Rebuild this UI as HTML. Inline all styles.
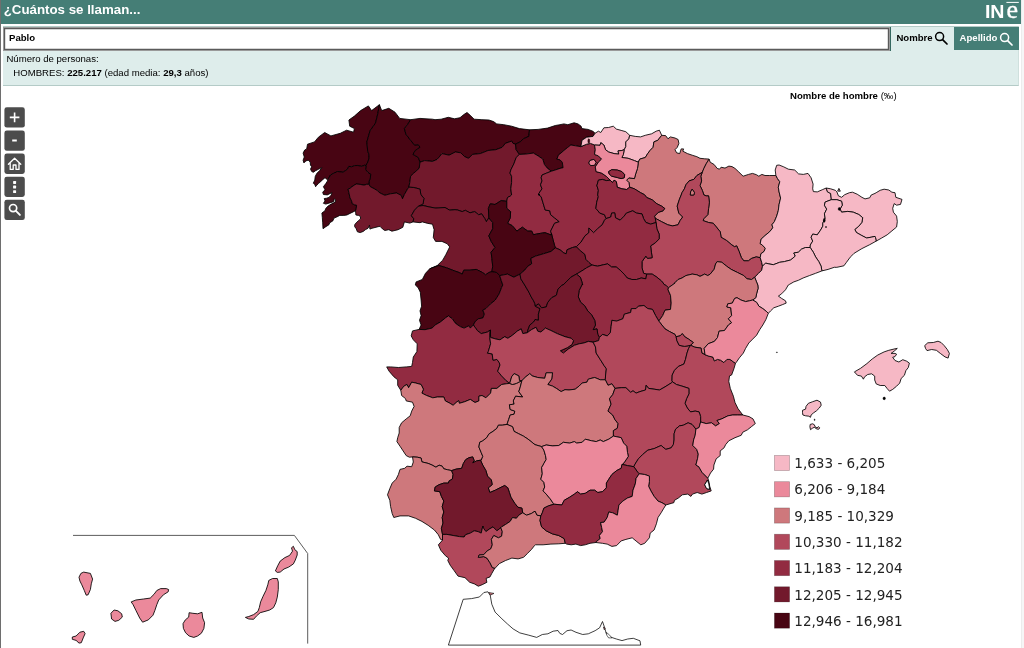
<!DOCTYPE html>
<html lang="es">
<head>
<meta charset="utf-8">
<title>¿Cuántos se llaman...</title>
<style>
*{box-sizing:border-box}
html,body{margin:0;padding:0;background:#fff;}
body{width:1024px;height:648px;overflow:hidden;position:relative;font-family:"Liberation Sans",Arial,Helvetica,sans-serif;color:#000;}
#lb{position:absolute;left:0;top:0;width:1px;height:648px;background:#6e6e6e;}
#rb{position:absolute;left:1021px;top:0;width:3px;height:648px;background:#f6f6f6;border-left:1px solid #ececec;}
#hdr{position:absolute;left:1px;top:0;width:1020px;height:24px;background:#457e76;}
#hdr h1{position:absolute;left:2.7px;top:1.3px;margin:0;font-size:13.3px;line-height:18px;font-weight:bold;color:#fff;white-space:nowrap;}
#logo{position:absolute;left:983px;top:0px;width:38px;height:22px;}
#panel{position:absolute;left:3px;top:26px;width:1016px;height:60px;background:#deedeb;border:1px solid #b4cbc7;border-left:0;border-right-color:#cfe0dd;}
#inp{position:absolute;left:0px;top:0px;width:887px;height:24.3px;background:#fff;border:1px solid #9a9a9a;box-shadow:inset 0 0 0 1.2px #5a5a5a;font-weight:bold;font-size:9.6px;line-height:18px;padding:1px 0 0 5px;}
#b1{position:absolute;left:887px;top:0px;width:64px;height:24px;border-left:1px solid #356860;font-weight:bold;font-size:9.6px;line-height:22px;padding-left:5.4px;}
#b2{position:absolute;left:951.2px;top:0px;width:65px;height:23.2px;background:#457e76;color:#fff;font-weight:bold;font-size:9.6px;line-height:22px;padding-left:5.4px;}
.mg{position:absolute;top:4px;width:14px;height:14px;}
#t1{position:absolute;left:3.4px;top:25.2px;font-size:9.6px;line-height:13px;white-space:nowrap;}
#t2{position:absolute;left:10.3px;top:39.2px;font-size:9.6px;line-height:13px;white-space:nowrap;}
#ttl{position:absolute;left:790px;top:88.5px;font-size:9.6px;line-height:13px;font-weight:bold;white-space:nowrap;}
#ttl span{font-weight:normal}
#map{position:absolute;left:0;top:0;width:1024px;height:648px;}
#leg{position:absolute;left:0;top:0;font-family:"DejaVu Sans",Verdana,sans-serif;font-size:13.55px;color:#222;}
#leg div{position:absolute;left:794.3px;height:16px;line-height:16px;white-space:nowrap;}
</style>
</head>
<body>

<svg id="map" width="1024" height="648" viewBox="0 0 1024 648">
<g stroke="#000" stroke-width="0.85" stroke-linejoin="round">
<path fill="#480513" d="M304.7,150.0 303.1,153.1 304.3,157.0 303.1,160.2 303.9,162.9 305.9,160.9 308.2,160.2 310.2,162.1 310.5,165.2 311.7,166.8 310.5,169.1 311.7,171.5 313.3,172.3 315.6,170.7 318.8,169.1 321.9,167.6 319.9,170.3 316.8,173.4 315.2,176.6 314.8,180.1 313.3,183.2 314.8,184.4 315.6,186.7 316.8,185.2 318.4,183.6 321.1,181.2 322.7,179.7 325.0,177.7 327.3,179.7 328.5,178.5 330.5,175.0 333.6,173.4 337.5,171.5 340.6,171.9 343.0,172.3 345.3,170.7 347.3,169.5 348.8,166.4 351.6,166.8 354.7,165.6 357.8,165.5 361.7,166.4 364.8,165.2 366.0,165.5 368.0,161.7 369.1,157.8 368.8,153.9 367.7,151.2 366.9,141.9 370.0,130.9 375.5,123.1 377.8,113.8 379.4,104.7 371.6,110.6 368.4,105.9 360.6,110.6 354.4,116.1 348.9,120.0 349.7,126.2 354.4,128.6 353.6,132.2 346.6,130.2 340.3,133.3 330.9,135.9 324.7,132.5 318.4,137.2 314.5,141.9 307.5,144.2 306.7,148.9Z"/>
<path fill="#480513" d="M410.6,119.7 399.7,118.4 395.0,112.2 388.8,108.3 381.7,110.6 379.4,104.7 377.8,113.8 375.5,123.1 370.0,130.9 366.9,141.9 367.7,151.2 368.8,153.9 369.1,157.8 368.0,161.7 366.0,165.5 365.6,169.5 368.0,172.7 370.7,174.2 370.3,178.1 369.1,181.2 368.8,184.2 370.3,186.7 374.2,188.7 377.3,190.6 380.0,193.0 384.8,195.3 390.3,193.8 396.6,193.0 401.2,195.3 402.5,198.8 404.4,194.5 407.5,189.1 408.8,187.2 409.8,182.5 410.6,176.2 413.8,173.1 419.2,168.4 420.0,162.2 418.4,157.5 413.0,154.4 415.3,150.5 420.0,147.3 418.4,144.7 414.5,145.0 410.6,140.3 405.9,134.1 404.4,128.6 407.5,124.7Z"/>
<path fill="#480513" d="M435.0,119.7 432.5,119.2 420.0,118.4 410.6,119.7 407.5,124.7 404.4,128.6 405.9,134.1 410.6,140.3 414.5,145.0 418.4,144.7 420.0,147.3 415.3,150.5 413.0,154.4 418.4,157.5 420.0,162.2 424.7,160.6 432.5,161.4 437.2,159.4 442.0,153.6 449.1,155.2 455.3,152.0 460.8,152.8 464.7,156.7 468.6,158.3 472.5,154.4 480.3,153.6 488.1,150.5 495.9,149.7 502.2,147.3 505.3,143.4 511.6,141.1 513.1,143.4 515.5,144.2 520.2,141.9 523.3,138.8 528.8,136.4 529.5,129.8 519.4,128.6 511.6,126.2 503.8,124.7 496.7,123.9 493.6,121.6 488.9,120.0 481.9,119.7 474.1,119.2 470.2,115.3 467.0,112.5 463.9,114.5 460.0,117.7 454.5,118.8 448.3,117.3 441.2,119.2Z"/>
<path fill="#480513" d="M366.0,165.5 364.8,165.2 361.7,166.4 357.8,165.5 354.7,165.6 351.6,166.8 348.8,166.4 347.3,169.5 345.3,170.7 343.0,172.3 340.6,171.9 337.5,171.5 333.6,173.4 330.5,175.0 328.5,178.5 327.3,181.2 325.8,183.6 323.4,186.7 325.0,189.8 322.7,192.2 323.4,194.5 327.3,194.9 332.0,192.6 331.2,195.1 328.9,197.4 326.6,198.2 324.2,198.6 325.0,200.9 323.4,203.3 325.8,204.1 329.7,202.9 333.6,201.7 334.4,198.6 335.5,199.8 335.2,202.1 331.2,204.1 328.1,206.0 325.8,208.4 325.0,210.7 321.9,213.0 322.3,217.3 322.7,222.8 323.0,228.7 325.8,226.7 328.9,224.8 329.7,222.8 332.8,220.9 334.0,218.1 336.7,217.0 339.8,215.4 343.8,215.4 346.9,215.0 350.0,213.4 353.1,211.9 355.5,210.7 356.2,208.8 356.6,205.2 354.7,204.8 352.3,203.7 351.6,200.9 350.0,197.8 349.2,193.9 348.8,192.2 348.0,189.1 350.0,188.3 353.1,185.9 356.2,184.0 360.2,184.4 364.1,185.2 366.4,184.4 368.8,184.2 369.1,181.2 370.3,178.1 370.7,174.2 368.0,172.7 365.6,169.5Z"/>
<path fill="#72192c" d="M437.2,159.4 432.5,161.4 424.7,160.6 420.0,162.2 419.2,168.4 413.8,173.1 410.6,176.2 409.8,182.5 408.8,187.2 413.8,187.5 420.0,189.1 420.8,194.5 423.9,198.4 423.1,203.9 418.4,206.2 423.1,205.5 429.4,207.0 435.6,208.1 445.0,207.5 449.7,210.2 455.0,209.7 457.5,210.0 462.2,211.6 465.3,210.3 470.0,212.8 474.7,211.6 478.6,214.7 481.7,213.9 484.8,218.6 486.4,221.7 488.8,217.8 488.4,208.4 490.3,203.8 495.0,204.5 501.2,200.6 506.7,201.4 507.5,197.5 510.6,195.9 511.6,195.0 510.8,188.8 511.6,182.5 511.6,176.2 510.0,173.1 510.8,170.0 513.9,163.8 516.2,157.5 519.4,154.4 516.2,149.7 515.5,144.2 513.1,143.4 511.6,141.1 505.3,143.4 502.2,147.3 495.9,149.7 488.1,150.5 480.3,153.6 472.5,154.4 468.6,158.3 464.7,156.7 460.8,152.8 455.3,152.0 449.1,155.2 442.0,153.6Z"/>
<path fill="#72192c" d="M355.9,215.0 358.6,215.4 360.5,216.6 360.5,218.9 358.2,220.9 356.2,222.8 354.7,224.8 354.7,226.7 356.2,228.7 357.4,231.8 360.2,232.6 363.3,231.4 365.2,229.8 368.0,228.3 369.5,225.2 369.9,229.1 371.9,228.3 375.0,227.5 378.1,226.7 380.0,226.3 380.0,226.3 382.5,228.9 384.8,230.5 388.8,229.7 391.9,231.2 398.1,229.7 402.8,227.3 404.4,221.9 409.8,223.1 413.0,221.9 413.8,218.8 411.4,215.6 414.5,210.2 418.4,206.2 423.1,203.9 423.9,198.4 420.8,194.5 420.0,189.1 413.8,187.5 408.8,187.2 407.5,189.1 404.4,194.5 402.5,198.8 401.2,195.3 396.6,193.0 390.3,193.8 384.8,195.3 380.0,193.0 377.3,190.6 374.2,188.7 370.3,186.7 368.8,184.2 366.4,184.4 364.1,185.2 360.2,184.4 356.2,184.0 353.1,185.9 350.0,188.3 348.0,189.1 348.8,192.2 349.2,193.9 350.0,197.8 351.6,200.9 352.3,203.7 354.7,204.8 356.6,205.2 356.2,208.8 355.5,210.7Z"/>
<path fill="#72192c" d="M413.0,221.9 420.0,222.7 422.3,221.9 427.8,223.4 432.5,224.2 434.1,229.7 433.3,237.5 435.6,241.4 441.9,241.4 447.3,243.8 449.7,246.9 445.8,254.7 442.7,260.2 437.2,265.6 429.7,268.8 438.8,265.5 446.6,267.8 454.4,270.9 459.1,272.5 462.2,274.1 463.8,270.2 470.0,270.2 476.2,269.4 482.5,272.5 485.6,274.8 488.8,272.5 491.9,271.7 492.7,266.2 491.9,258.4 491.1,252.2 495.0,247.5 491.1,241.2 488.8,235.8 492.7,228.8 492.7,222.5 488.8,217.8 486.4,221.7 484.8,218.6 481.7,213.9 478.6,214.7 474.7,211.6 470.0,212.8 465.3,210.3 462.2,211.6 457.5,210.0 455.0,209.7 449.7,210.2 445.0,207.5 435.6,208.1 429.4,207.0 423.1,205.5 418.4,206.2 414.5,210.2 411.4,215.6 413.8,218.8Z"/>
<path fill="#480513" d="M592.8,131.2 588.1,129.4 581.9,128.6 581.1,126.2 578.0,123.9 574.1,122.8 567.8,124.7 563.9,123.9 560.0,124.7 555.3,125.5 547.5,128.1 538.1,129.4 529.5,129.8 528.8,136.4 523.3,138.8 520.2,141.9 515.5,144.2 516.2,149.7 519.4,154.4 525.6,154.1 533.4,153.1 538.1,155.9 542.8,159.1 544.4,164.5 547.5,168.4 551.4,171.2 555.3,170.0 560.0,168.4 563.1,167.7 562.3,162.2 560.0,159.8 556.9,159.1 558.4,155.2 563.1,151.2 567.8,147.3 570.9,145.0 575.6,145.8 580.3,146.6 580.9,146.6 582.0,140.3 586.7,137.2 593.0,136.4 595.0,133.3 593.0,131.2Z"/>
<path fill="#922b41" d="M519.4,154.4 516.2,157.5 513.9,163.8 510.8,170.0 510.0,173.1 511.6,176.2 511.6,182.5 510.8,188.8 511.6,195.0 510.6,195.9 507.5,197.5 506.7,201.4 506.7,208.4 510.6,211.6 510.3,217.8 507.5,223.3 512.2,225.6 516.9,231.1 522.3,227.2 527.8,231.1 531.7,231.1 533.3,234.7 540.3,233.4 545.0,232.7 551.2,235.0 551.4,233.4 550.6,231.1 552.2,228.0 554.5,223.3 559.2,221.7 554.5,217.8 550.6,214.7 549.8,210.8 545.2,210.0 542.8,202.2 541.2,196.7 538.1,194.4 539.7,195.0 538.9,193.4 542.0,188.8 540.5,184.8 542.0,180.9 541.2,177.8 542.0,175.0 546.7,173.1 551.4,171.2 547.5,168.4 544.4,164.5 542.8,159.1 538.1,155.9 533.4,153.1 525.6,154.1Z"/>
<path fill="#922b41" d="M580.9,146.6 580.3,146.6 575.6,145.8 570.9,145.0 567.8,147.3 563.1,151.2 558.4,155.2 556.9,159.1 560.0,159.8 562.3,162.2 563.1,167.7 560.0,168.4 555.3,170.0 551.4,171.2 546.7,173.1 542.0,175.0 541.2,177.8 542.0,180.9 540.5,184.8 542.0,188.8 538.9,193.4 539.7,195.0 538.1,194.4 541.2,196.7 542.8,202.2 545.2,210.0 549.8,210.8 550.6,214.7 554.5,217.8 559.2,221.7 554.5,223.3 552.2,228.0 550.6,231.1 551.4,233.4 553.0,239.7 554.5,245.2 555.3,247.8 560.0,249.8 563.9,253.0 566.2,253.8 567.0,249.8 572.5,247.5 576.4,246.7 581.1,242.0 585.0,235.8 588.9,232.7 588.9,228.0 593.6,232.7 597.5,228.8 602.2,224.8 604.5,220.2 606.1,218.6 604.5,214.7 599.8,213.1 595.9,208.4 596.7,202.2 598.3,196.7 597.7,195.0 598.4,190.3 596.9,185.6 598.4,180.2 602.3,179.4 606.2,180.6 610.2,180.2 606.2,176.2 601.6,173.1 596.1,171.6 595.3,166.9 598.4,162.2 601.6,159.1 598.4,155.9 594.5,154.4 595.3,149.7 594.5,145.0 590.6,143.4 586.7,144.2ZM589.8,160.6 593.8,159.4 596.1,162.2 594.5,165.3 590.6,165.6 588.8,163.0Z"/>
<path fill="#f6b8c5" d="M629.7,135.3 625.8,131.7 621.9,130.6 616.4,129.1 613.3,126.2 608.6,127.5 603.9,127.8 600.8,132.5 598.4,131.2 595.0,133.3 593.0,136.4 586.7,137.2 582.0,140.3 580.9,146.6 586.7,144.2 590.6,143.4 594.5,145.0 600.0,145.3 600.8,142.7 603.9,145.0 605.5,149.7 608.6,152.0 614.1,153.6 618.8,154.1 618.0,150.9 621.9,150.5 624.2,149.7 625.8,146.6 625.8,141.9 628.9,138.8Z"/>
<path fill="#f6b8c5" d="M661.7,135.3 659.4,130.2 656.2,131.2 651.6,133.8 645.3,135.3 640.6,136.9 635.2,136.4 629.7,135.3 628.9,138.8 625.8,141.9 625.8,146.6 624.2,149.7 623.4,154.4 621.9,157.5 628.1,158.3 634.4,160.6 638.3,162.2 639.8,159.1 645.3,157.5 647.7,153.6 650.0,150.5 653.1,147.3 653.9,141.9 657.8,140.3Z"/>
<path fill="#ce787c" d="M709.1,159.1 704.7,158.8 700.0,158.3 696.9,156.7 692.2,155.2 687.5,153.6 682.8,151.2 683.6,148.9 681.2,148.9 679.7,153.6 676.6,152.8 675.0,149.7 677.3,147.3 678.9,143.4 678.1,139.5 675.0,138.0 670.3,136.9 668.0,138.8 665.6,135.6 661.7,135.3 657.8,140.3 653.9,141.9 653.1,147.3 650.0,150.5 647.7,153.6 645.3,157.5 639.8,159.1 638.3,162.2 637.5,168.4 635.9,173.1 634.4,178.6 628.9,177.8 626.6,180.2 628.9,182.5 629.7,187.2 634.4,188.8 640.6,192.7 644.5,194.7 646.7,197.5 652.2,199.8 656.9,203.8 661.6,206.1 664.7,208.4 663.1,210.8 658.4,212.3 654.5,216.2 655.3,218.3 661.6,221.7 667.8,224.8 672.5,225.9 678.0,224.8 680.3,220.2 682.7,217.0 678.8,213.1 677.2,206.1 679.5,199.1 681.2,195.0 682.0,192.7 684.4,188.8 685.9,184.8 689.1,180.9 693.8,179.4 696.9,175.5 702.3,172.3 703.9,168.4 706.2,163.8Z"/>
<path fill="#ce787c" d="M735.0,168.4 732.0,166.6 728.9,166.1 725.0,168.1 721.1,167.2 719.5,169.2 717.2,168.4 714.1,164.5 710.2,162.2 709.1,159.1 706.2,163.8 703.9,168.4 702.3,172.3 700.8,176.2 701.6,180.9 700.0,185.6 702.3,190.3 703.9,195.0 706.2,195.9 708.6,195.9 709.4,202.2 708.6,208.4 707.8,214.7 703.9,218.6 703.1,220.6 708.6,222.5 713.3,223.3 717.2,228.0 720.3,231.9 721.1,237.3 726.6,240.5 731.2,244.4 734.4,246.7 736.7,245.9 739.1,251.4 741.4,257.7 743.8,260.8 748.4,260.8 751.6,258.4 756.2,256.9 760.2,257.7 760.9,253.8 764.1,251.4 765.3,248.3 762.5,245.2 760.2,243.6 761.1,239.2 765.0,235.6 769.7,231.7 772.8,227.8 772.0,224.7 774.4,221.6 776.7,216.1 778.3,210.6 779.1,204.4 780.6,198.1 779.1,191.9 778.3,187.2 779.8,181.7 777.5,178.6 775.9,175.5 769.7,175.5 765.0,175.5 761.9,174.4 758.8,176.2 756.4,174.7 752.5,173.4 748.6,174.4 743.1,176.2 738.4,171.6Z"/>
<path fill="#eb899b" d="M624.2,149.7 621.9,150.5 618.0,150.9 618.8,154.1 614.1,153.6 608.6,152.0 605.5,149.7 603.9,145.0 600.8,142.7 600.0,145.3 594.5,145.0 595.3,149.7 594.5,154.4 598.4,155.9 601.6,159.1 598.4,162.2 595.3,166.9 596.1,171.6 601.6,173.1 606.2,176.2 610.2,180.2 612.5,182.5 614.1,180.2 616.4,181.7 617.2,187.2 621.9,188.8 626.6,189.5 629.7,187.2 628.9,182.5 626.6,180.2 628.9,177.8 634.4,178.6 635.9,173.1 637.5,168.4 638.3,162.2 634.4,160.6 628.1,158.3 621.9,157.5 623.4,154.4ZM608.6,171.6 611.7,169.7 617.2,170.0 621.9,171.6 624.7,174.7 624.2,177.8 621.1,178.6 617.2,177.5 611.7,176.2 609.1,173.9Z"/>
<path fill="#eb899b" d="M589.8,160.6 588.8,163.0 590.6,165.6 594.5,165.3 596.1,162.2 593.8,159.4Z"/>
<path fill="#922b41" d="M608.6,171.6 609.1,173.9 611.7,176.2 617.2,177.5 621.1,178.6 624.2,177.8 624.7,174.7 621.9,171.6 617.2,170.0 611.7,169.7Z"/>
<path fill="#922b41" d="M629.7,187.2 626.6,189.5 621.9,188.8 617.2,187.2 616.4,181.7 614.1,180.2 612.5,182.5 610.2,180.2 606.2,180.6 602.3,179.4 598.4,180.2 596.9,185.6 598.4,190.3 597.7,195.0 598.3,196.7 596.7,202.2 595.9,208.4 599.8,213.1 604.5,214.7 606.1,218.6 610.8,217.0 611.6,213.1 614.7,212.8 615.5,217.8 620.2,220.2 624.1,216.2 626.4,213.1 632.7,210.8 636.6,213.1 642.0,213.9 643.6,218.6 645.9,222.5 650.6,224.1 656.1,222.5 655.3,218.3 654.5,216.2 658.4,212.3 663.1,210.8 664.7,208.4 661.6,206.1 656.9,203.8 652.2,199.8 646.7,197.5 644.5,194.7 640.6,192.7 634.4,188.8Z"/>
<path fill="#b1485b" d="M702.3,172.3 696.9,175.5 693.8,179.4 689.1,180.9 685.9,184.8 684.4,188.8 682.0,192.7 681.2,195.0 679.5,199.1 677.2,206.1 678.8,213.1 682.7,217.0 680.3,220.2 678.0,224.8 672.5,225.9 667.8,224.8 661.6,221.7 655.3,218.3 656.1,222.5 656.9,228.8 659.2,234.2 659.2,238.9 655.3,242.8 650.6,245.9 651.4,252.2 652.2,257.7 647.5,258.4 645.9,256.1 642.0,261.6 642.0,267.8 643.6,273.3 646.7,274.1 652.2,274.1 656.9,277.2 661.6,281.1 664.7,285.0 665.8,285.2 668.4,287.8 675.0,283.1 675.0,282.7 678.1,279.5 682.0,278.0 685.9,275.6 692.2,274.1 696.9,274.8 700.0,276.4 704.7,274.1 707.8,275.6 710.2,274.1 714.1,269.4 715.6,263.9 717.2,261.6 721.9,262.3 726.6,266.2 731.2,269.4 737.5,272.5 743.8,275.6 746.9,278.8 751.6,279.5 754.7,277.2 758.6,273.3 761.7,270.2 762.5,266.2 761.7,262.3 760.2,257.7 756.2,256.9 751.6,258.4 748.4,260.8 743.8,260.8 741.4,257.7 739.1,251.4 736.7,245.9 734.4,246.7 731.2,244.4 726.6,240.5 721.1,237.3 720.3,231.9 717.2,228.0 713.3,223.3 708.6,222.5 703.1,220.6 703.9,218.6 707.8,214.7 708.6,208.4 709.4,202.2 708.6,195.9 706.2,195.9 703.9,195.0 702.3,190.3 700.0,185.6 701.6,180.9 700.8,176.2ZM692.2,189.1 694.5,192.7 693.8,195.0 690.3,195.0 690.6,191.9Z"/>
<path fill="#ce787c" d="M692.2,189.1 690.6,191.9 690.3,195.0 693.8,195.0 694.5,192.7Z"/>
<path fill="#f6b8c5" d="M826.2,188.0 822.8,189.5 817.3,191.9 813.4,191.6 812.7,188.8 813.1,184.1 811.1,177.8 808.0,173.4 803.3,174.4 798.6,173.9 794.7,170.0 788.4,169.2 783.8,166.9 779.1,165.0 776.7,165.3 775.2,170.0 775.9,175.5 777.5,178.6 779.8,181.7 778.3,187.2 779.1,191.9 780.6,198.1 779.1,204.4 778.3,210.6 776.7,216.1 774.4,221.6 772.0,224.7 772.8,227.8 769.7,231.7 765.0,235.6 761.1,239.2 760.2,243.6 762.5,245.2 765.3,248.3 764.1,251.4 760.9,253.8 760.2,257.7 761.7,262.3 762.5,266.2 765.6,263.1 768.8,263.9 773.4,264.7 779.7,262.3 784.4,261.6 790.6,260.0 795.3,256.1 793.8,253.0 798.4,252.2 801.6,249.1 805.5,247.5 810.2,247.5 810.3,245.0 812.7,241.1 811.1,237.2 812.7,234.1 817.3,234.8 820.5,230.2 822.8,226.2 822.8,223.1 825.2,218.4 824.4,213.8 826.7,209.1 824.4,205.2 825.2,202.0 831.4,199.7 830.6,193.4 827.5,191.9Z"/>
<path fill="#f6b8c5" d="M875.0,193.4 871.2,195.0 869.7,197.8 865.0,198.9 861.9,197.3 857.2,194.2 852.5,192.2 849.4,192.7 844.7,194.7 841.6,197.3 838.4,195.8 836.9,191.9 835.3,190.3 830.6,188.8 826.2,188.0 827.5,191.9 830.6,193.4 831.4,199.7 836.9,199.7 841.6,201.2 842.3,205.2 840.0,209.1 841.6,212.2 847.8,211.4 853.3,212.2 858.8,214.5 862.7,217.7 861.9,222.3 858.8,226.2 854.8,229.4 856.4,232.5 861.9,235.6 866.6,238.0 871.2,237.2 875.0,236.4 875.5,237.5 876.2,241.1 881.7,238.0 887.2,234.8 891.9,230.9 896.6,227.0 897.3,221.6 896.6,216.1 893.4,212.2 892.7,208.3 894.2,203.6 896.6,205.2 900.5,204.4 902.0,199.4 895.8,197.3 895.0,192.7 891.9,192.2 888.8,190.0 884.1,189.2 880.2,190.3 876.2,192.7Z"/>
<path fill="#f6b8c5" d="M825.2,202.0 824.4,205.2 826.7,209.1 824.4,213.8 825.2,218.4 822.8,223.1 822.8,226.2 820.5,230.2 817.3,234.8 812.7,234.1 811.1,237.2 812.7,241.1 810.3,245.0 810.2,247.5 813.3,252.2 815.6,256.9 818.8,261.6 821.1,266.2 821.9,270.9 828.1,269.4 834.9,267.1 835.0,267.3 836.9,267.3 843.9,265.8 846.2,262.7 850.2,257.2 854.1,253.3 861.9,248.6 869.7,244.7 876.2,241.1 875.5,237.5 875.0,236.4 871.2,237.2 866.6,238.0 861.9,235.6 856.4,232.5 854.8,229.4 858.8,226.2 861.9,222.3 862.7,217.7 858.8,214.5 853.3,212.2 847.8,211.4 841.6,212.2 840.0,209.1 842.3,205.2 841.6,201.2 836.9,199.7 831.4,199.7Z"/>
<path fill="#f6b8c5" d="M837.7,191.1 840.3,191.2 838.9,188.4Z"/>
<path fill="#480513" d="M506.7,201.4 501.2,200.6 495.0,204.5 490.3,203.8 488.4,208.4 488.8,217.8 492.7,222.5 492.7,228.8 488.8,235.8 491.1,241.2 495.0,247.5 491.1,252.2 491.9,258.4 492.7,266.2 491.9,271.7 496.6,272.5 499.7,275.6 507.5,274.1 513.8,277.2 520.0,274.1 524.7,270.2 527.8,266.2 531.7,263.9 530.9,258.4 535.6,256.1 543.4,253.8 551.2,251.4 555.3,247.8 554.5,245.2 553.0,239.7 551.4,233.4 551.2,235.0 545.0,232.7 540.3,233.4 533.3,234.7 531.7,231.1 527.8,231.1 522.3,227.2 516.9,231.1 512.2,225.6 507.5,223.3 510.3,217.8 510.6,211.6 506.7,208.4Z"/>
<path fill="#480513" d="M429.7,268.8 425.5,273.3 422.3,279.5 416.1,281.9 415.3,285.0 418.0,287.5 420.3,292.2 421.1,300.0 421.6,306.2 420.0,310.9 421.1,315.6 419.5,320.3 421.1,325.0 419.1,329.4 425.0,329.7 432.0,328.1 435.2,325.0 440.6,321.9 445.3,318.0 448.4,315.9 452.3,318.8 455.5,323.4 460.2,326.6 464.1,328.1 468.8,325.8 470.3,328.1 473.4,325.0 475.0,321.9 478.1,318.8 482.8,318.0 484.4,314.1 482.8,310.2 485.9,308.6 490.6,303.9 495.3,300.0 499.2,293.8 501.6,287.5 502.8,285.0 501.2,280.3 499.7,275.6 496.6,272.5 491.9,271.7 488.8,272.5 485.6,274.8 482.5,272.5 476.2,269.4 470.0,270.2 463.8,270.2 462.2,274.1 459.1,272.5 454.4,270.9 446.6,267.8 438.8,265.5Z"/>
<path fill="#72192c" d="M520.0,274.1 513.8,277.2 507.5,274.1 499.7,275.6 501.2,280.3 502.8,285.0 501.6,287.5 499.2,293.8 495.3,300.0 490.6,303.9 485.9,308.6 482.8,310.2 484.4,314.1 482.8,318.0 478.1,318.8 475.0,321.9 473.4,325.0 477.3,330.5 481.2,333.6 487.5,332.0 490.3,330.0 490.6,337.5 496.1,339.1 500.0,339.8 504.7,336.7 507.8,338.3 512.5,335.2 517.2,331.2 521.2,328.9 522.8,333.6 527.2,332.8 528.3,328.9 529.8,325.0 533.8,321.9 535.0,319.5 538.4,320.3 538.4,314.1 540.0,308.6 535.3,306.2 535.0,303.9 533.6,300.8 531.2,296.9 528.9,292.2 524.7,285.0 520.8,278.8Z"/>
<path fill="#72192c" d="M551.2,251.4 543.4,253.8 535.6,256.1 530.9,258.4 531.7,263.9 527.8,266.2 524.7,270.2 520.0,274.1 520.8,278.8 524.7,285.0 528.9,292.2 531.2,296.9 533.6,300.8 535.0,303.9 535.3,306.2 538.4,303.9 541.6,307.8 546.2,307.0 547.8,302.3 551.7,297.7 556.4,295.3 558.0,289.1 561.9,285.2 563.1,285.0 566.2,281.9 570.9,277.2 576.4,274.1 581.9,270.9 586.6,267.8 592.0,265.0 588.9,262.3 585.8,259.2 585.0,254.5 580.3,250.6 576.4,246.7 572.5,247.5 567.0,249.8 566.2,253.8 563.9,253.0 560.0,249.8 555.3,247.8Z"/>
<path fill="#922b41" d="M606.1,218.6 604.5,220.2 602.2,224.8 597.5,228.8 593.6,232.7 588.9,228.0 588.9,232.7 585.0,235.8 581.1,242.0 576.4,246.7 580.3,250.6 585.0,254.5 585.8,259.2 588.9,262.3 592.0,265.0 597.5,266.2 603.8,264.7 607.7,263.9 611.6,267.0 616.2,267.0 620.2,270.2 624.1,274.1 627.2,278.0 631.9,279.5 636.6,279.5 641.2,278.0 645.9,278.8 646.7,274.1 643.6,273.3 642.0,267.8 642.0,261.6 645.9,256.1 647.5,258.4 652.2,257.7 651.4,252.2 650.6,245.9 655.3,242.8 659.2,238.9 659.2,234.2 656.9,228.8 656.1,222.5 650.6,224.1 645.9,222.5 643.6,218.6 642.0,213.9 636.6,213.1 632.7,210.8 626.4,213.1 624.1,216.2 620.2,220.2 615.5,217.8 614.7,212.8 611.6,213.1 610.8,217.0Z"/>
<path fill="#922b41" d="M646.7,274.1 645.9,278.8 641.2,278.0 636.6,279.5 631.9,279.5 627.2,278.0 624.1,274.1 620.2,270.2 616.2,267.0 611.6,267.0 607.7,263.9 603.8,264.7 597.5,266.2 592.0,265.0 586.6,267.8 581.9,270.9 576.4,274.1 580.3,277.2 581.9,281.9 582.7,285.0 582.2,284.4 579.1,290.6 578.3,296.9 580.6,302.3 584.5,305.5 587.7,310.9 591.6,314.8 594.7,320.3 595.5,325.0 593.1,329.7 597.0,328.9 597.8,334.4 599.4,337.5 602.5,334.4 607.2,335.9 610.3,332.8 611.1,326.6 611.9,320.3 616.6,321.1 622.8,318.8 624.4,314.1 630.6,312.5 631.4,308.6 636.1,308.6 638.4,306.2 643.9,305.5 647.8,308.6 652.5,309.4 655.6,315.6 658.8,321.1 662.7,315.6 665.0,310.2 670.5,309.4 671.2,303.1 670.5,295.3 668.1,289.8 668.4,287.8 665.8,285.2 664.7,285.0 661.6,281.1 656.9,277.2 652.2,274.1Z"/>
<path fill="#72192c" d="M576.4,274.1 570.9,277.2 566.2,281.9 563.1,285.0 561.9,285.2 558.0,289.1 556.4,295.3 551.7,297.7 547.8,302.3 546.2,307.0 541.6,307.8 538.4,303.9 535.3,306.2 540.0,308.6 538.4,314.1 538.4,320.3 535.0,319.5 533.8,321.9 529.8,325.0 528.3,328.9 527.2,332.8 531.4,329.7 536.1,327.3 537.7,331.2 540.8,332.0 545.5,328.1 550.9,330.5 557.2,333.6 565.0,336.7 571.2,338.3 573.6,340.6 572.0,344.5 567.3,347.7 560.3,350.8 563.4,353.1 568.1,349.2 574.4,345.3 579.1,343.8 583.8,343.0 588.4,341.4 593.1,342.2 598.6,340.6 599.4,337.5 597.8,334.4 597.0,328.9 593.1,329.7 595.5,325.0 594.7,320.3 591.6,314.8 587.7,310.9 584.5,305.5 580.6,302.3 578.3,296.9 579.1,290.6 582.2,284.4 582.7,285.0 581.9,281.9 580.3,277.2Z"/>
<path fill="#f6b8c5" d="M762.5,266.2 761.7,270.2 758.6,273.3 754.7,277.2 756.2,281.1 757.8,285.0 758.1,288.3 756.6,293.8 755.8,297.7 752.7,300.0 756.6,302.3 758.9,306.2 762.8,308.6 766.7,311.7 768.3,313.3 770.6,310.9 773.8,307.8 778.4,306.2 782.3,304.7 786.2,303.1 785.5,300.8 781.6,298.4 778.4,296.1 781.6,293.8 785.5,289.8 788.3,285.0 789.8,284.2 793.8,281.9 798.4,280.3 803.1,278.0 809.4,275.6 815.6,273.3 821.9,270.9 821.1,266.2 818.8,261.6 815.6,256.9 813.3,252.2 810.2,247.5 805.5,247.5 801.6,249.1 798.4,252.2 793.8,253.0 795.3,256.1 790.6,260.0 784.4,261.6 779.7,262.3 773.4,264.7 768.8,263.9 765.6,263.1Z"/>
<path fill="#ce787c" d="M754.7,277.2 751.6,279.5 746.9,278.8 743.8,275.6 737.5,272.5 731.2,269.4 726.6,266.2 721.9,262.3 717.2,261.6 715.6,263.9 714.1,269.4 710.2,274.1 707.8,275.6 704.7,274.1 700.0,276.4 696.9,274.8 692.2,274.1 685.9,275.6 682.0,278.0 678.1,279.5 675.0,282.7 675.0,283.1 668.4,287.8 668.1,289.8 670.5,295.3 671.2,303.1 670.5,309.4 665.0,310.2 662.7,315.6 658.8,321.1 661.9,325.0 665.0,328.9 669.7,331.6 675.0,334.4 676.1,336.7 680.0,335.9 682.3,333.6 684.7,336.7 688.6,339.1 693.3,342.5 690.6,345.3 694.8,347.2 701.1,348.1 701.9,353.1 705.0,354.7 704.2,348.4 708.1,343.8 714.4,341.4 717.5,337.5 719.1,331.2 724.5,330.5 728.4,325.0 731.6,322.7 728.4,318.8 731.6,315.6 730.8,307.8 726.9,307.0 727.7,303.9 732.3,303.1 734.7,298.4 737.0,297.7 740.9,300.0 745.6,301.6 749.5,300.8 752.7,300.0 755.8,297.7 756.6,293.8 758.1,288.3 757.8,285.0 756.2,281.1Z"/>
<path fill="#922b41" d="M419.1,329.4 412.5,330.9 411.2,335.9 413.3,339.8 417.2,343.8 416.9,351.6 413.3,357.0 412.5,362.5 411.7,366.4 406.2,366.9 398.4,367.5 390.6,366.9 386.7,366.9 389.1,371.2 393.8,376.7 397.7,379.8 397.7,385.3 400.8,390.3 403.9,386.1 407.0,384.5 408.6,387.7 411.7,382.2 415.6,383.0 421.1,384.5 423.4,389.2 421.9,393.1 426.6,395.5 432.8,397.8 437.5,397.0 443.8,397.0 445.3,400.9 450.0,403.3 453.1,405.3 456.2,402.5 458.6,400.6 459.4,403.3 464.8,401.7 470.3,399.4 475.0,402.5 478.9,400.9 478.9,396.2 482.0,395.5 485.9,397.8 490.6,393.1 491.4,388.4 496.9,388.4 501.6,384.5 506.2,383.8 509.7,383.4 506.2,380.6 501.6,375.9 497.7,371.2 500.0,365.0 499.2,362.5 496.9,359.4 493.0,360.2 492.2,353.9 487.5,353.1 488.3,351.6 490.6,343.8 489.8,337.5 490.3,330.0 487.5,332.0 481.2,333.6 477.3,330.5 473.4,325.0 470.3,328.1 468.8,325.8 464.1,328.1 460.2,326.6 455.5,323.4 452.3,318.8 448.4,315.9 445.3,318.0 440.6,321.9 435.2,325.0 432.0,328.1 425.0,329.7Z"/>
<path fill="#b1485b" d="M527.2,332.8 522.8,333.6 521.2,328.9 517.2,331.2 512.5,335.2 507.8,338.3 504.7,336.7 500.0,339.8 496.1,339.1 490.6,337.5 490.3,330.0 489.8,337.5 490.6,343.8 488.3,351.6 487.5,353.1 492.2,353.9 493.0,360.2 496.9,359.4 499.2,362.5 500.0,365.0 497.7,371.2 501.6,375.9 506.2,380.6 509.7,383.4 511.7,376.7 514.1,373.6 518.8,375.9 519.5,380.6 521.9,380.6 525.9,376.7 529.8,373.6 532.2,375.9 537.7,377.5 544.7,378.3 546.2,372.8 552.5,372.8 551.7,379.1 547.8,384.5 552.5,386.1 556.4,388.4 561.1,391.6 565.0,389.7 568.9,390.0 575.2,389.2 579.1,386.1 582.2,383.0 586.9,382.2 588.4,379.1 594.7,377.5 600.2,379.8 605.3,379.8 605.6,375.0 606.4,368.8 604.1,365.6 600.2,359.4 596.2,353.1 595.5,346.9 593.1,342.2 588.4,341.4 583.8,343.0 579.1,343.8 574.4,345.3 568.1,349.2 563.4,353.1 560.3,350.8 567.3,347.7 572.0,344.5 573.6,340.6 571.2,338.3 565.0,336.7 557.2,333.6 550.9,330.5 545.5,328.1 540.8,332.0 537.7,331.2 536.1,327.3 531.4,329.7Z"/>
<path fill="#b1485b" d="M599.4,337.5 598.6,340.6 593.1,342.2 595.5,346.9 596.2,353.1 600.2,359.4 604.1,365.6 606.4,368.8 605.6,375.0 605.3,379.8 608.0,385.3 611.9,383.8 615.0,388.4 621.2,387.7 625.9,387.7 630.6,392.3 633.0,390.8 636.1,393.1 640.0,391.6 645.5,390.0 646.2,385.3 648.6,388.4 654.1,389.2 659.5,390.0 665.0,386.9 671.2,383.0 672.5,381.9 672.0,380.6 672.2,375.0 674.5,370.3 678.4,366.4 683.9,364.1 685.5,359.4 687.0,353.1 688.6,348.4 690.6,345.3 684.7,346.4 679.2,345.3 676.9,340.6 676.1,336.7 675.0,334.4 669.7,331.6 665.0,328.9 661.9,325.0 658.8,321.1 655.6,315.6 652.5,309.4 647.8,308.6 643.9,305.5 638.4,306.2 636.1,308.6 631.4,308.6 630.6,312.5 624.4,314.1 622.8,318.8 616.6,321.1 611.9,320.3 611.1,326.6 610.3,332.8 607.2,335.9 602.5,334.4Z"/>
<path fill="#b1485b" d="M690.6,345.3 693.3,342.5 688.6,339.1 684.7,336.7 682.3,333.6 680.0,335.9 676.1,336.7 676.9,340.6 679.2,345.3 684.7,346.4Z"/>
<path fill="#b1485b" d="M705.0,354.7 701.9,353.1 701.1,348.1 694.8,347.2 690.6,345.3 688.6,348.4 687.0,353.1 685.5,359.4 683.9,364.1 678.4,366.4 674.5,370.3 672.2,375.0 672.0,380.6 672.5,381.9 676.4,384.5 681.9,386.1 688.9,388.4 688.9,393.9 686.6,398.6 685.0,403.3 687.3,408.0 690.5,411.9 695.2,411.1 699.1,411.9 700.6,416.6 700.6,422.0 706.1,423.6 711.6,422.8 715.5,425.9 719.4,423.6 717.0,420.5 721.7,418.9 728.0,415.8 732.7,415.0 737.3,415.0 742.8,415.0 738.1,408.8 735.0,402.5 733.4,396.2 730.3,388.4 728.8,381.4 729.5,375.9 731.6,375.0 733.9,368.8 735.5,363.3 733.1,361.7 730.0,359.4 726.9,359.4 723.8,362.5 720.6,360.2 717.5,359.4 714.4,360.9 712.8,357.0 708.9,356.2Z"/>
<path fill="#eb899b" d="M752.7,300.0 749.5,300.8 745.6,301.6 740.9,300.0 737.0,297.7 734.7,298.4 732.3,303.1 727.7,303.9 726.9,307.0 730.8,307.8 731.6,315.6 728.4,318.8 731.6,322.7 728.4,325.0 724.5,330.5 719.1,331.2 717.5,337.5 714.4,341.4 708.1,343.8 704.2,348.4 705.0,354.7 708.9,356.2 712.8,357.0 714.4,360.9 717.5,359.4 720.6,360.2 723.8,362.5 726.9,359.4 730.0,359.4 733.1,361.7 735.5,363.3 736.2,362.5 739.4,357.8 743.3,353.1 745.6,348.4 748.8,343.0 752.7,339.1 756.6,335.2 759.7,329.7 762.8,325.0 765.9,319.5 768.3,313.3 766.7,311.7 762.8,308.6 758.9,306.2 756.6,302.3Z"/>
<path fill="#ce787c" d="M400.8,390.3 401.6,395.5 405.5,398.6 406.2,400.9 412.5,402.2 414.1,406.4 411.7,411.1 410.2,415.8 406.2,418.9 401.6,422.8 399.2,427.5 399.2,433.0 397.7,437.7 396.9,441.6 400.0,446.2 403.1,450.9 406.2,455.6 409.4,457.2 412.5,456.9 417.2,457.2 421.1,458.0 421.9,461.9 428.1,463.4 432.0,465.0 435.9,467.2 439.1,465.2 442.2,466.2 443.8,468.8 447.7,469.8 451.6,470.6 456.2,469.1 461.7,468.3 463.3,463.6 465.6,459.7 468.8,457.8 472.7,456.9 474.2,460.5 472.7,462.8 476.6,460.9 480.5,460.2 481.2,460.3 482.8,456.4 481.2,452.5 478.9,447.0 479.7,442.3 482.8,440.8 486.7,437.7 489.1,433.8 493.0,431.4 496.9,428.3 498.4,425.2 502.3,425.2 507.0,424.4 508.6,419.7 510.2,415.0 514.1,414.2 514.8,411.1 510.2,409.5 509.4,404.8 514.1,404.1 513.3,400.9 515.6,396.2 522.7,397.0 518.8,391.6 520.3,386.9 521.9,380.6 516.4,383.4 512.5,384.5 509.7,383.4 506.2,383.8 501.6,384.5 496.9,388.4 491.4,388.4 490.6,393.1 485.9,397.8 482.0,395.5 478.9,396.2 478.9,400.9 475.0,402.5 470.3,399.4 464.8,401.7 459.4,403.3 458.6,400.6 456.2,402.5 453.1,405.3 450.0,403.3 445.3,400.9 443.8,397.0 437.5,397.0 432.8,397.8 426.6,395.5 421.9,393.1 423.4,389.2 421.1,384.5 415.6,383.0 411.7,382.2 408.6,387.7 407.0,384.5 403.9,386.1Z"/>
<path fill="#ce787c" d="M521.9,380.6 519.5,380.6 518.8,375.9 514.1,373.6 511.7,376.7 509.7,383.4 512.5,384.5 516.4,383.4Z"/>
<path fill="#ce787c" d="M521.9,380.6 520.3,386.9 518.8,391.6 522.7,397.0 515.6,396.2 513.3,400.9 514.1,404.1 509.4,404.8 510.2,409.5 514.8,411.1 514.1,414.2 510.2,415.0 508.6,419.7 507.0,424.4 512.5,426.7 514.1,431.4 518.8,433.8 523.4,436.1 528.1,439.2 532.0,442.3 535.0,444.7 536.1,445.0 541.6,446.6 546.2,445.0 552.5,445.9 558.8,445.5 563.4,442.3 569.7,443.1 574.4,441.6 576.7,443.1 582.2,442.3 585.3,439.2 591.6,440.8 596.2,441.6 600.2,440.0 603.3,441.6 608.8,439.2 613.4,436.1 613.4,430.6 617.3,428.3 618.1,423.6 615.0,419.7 612.7,415.0 608.0,411.1 611.1,404.1 609.5,398.6 612.7,394.7 615.0,388.4 611.9,383.8 608.0,385.3 605.3,379.8 600.2,379.8 594.7,377.5 588.4,379.1 586.9,382.2 582.2,383.0 579.1,386.1 575.2,389.2 568.9,390.0 565.0,389.7 561.1,391.6 556.4,388.4 552.5,386.1 547.8,384.5 551.7,379.1 552.5,372.8 546.2,372.8 544.7,378.3 537.7,377.5 532.2,375.9 529.8,373.6 525.9,376.7Z"/>
<path fill="#ce787c" d="M507.0,424.4 502.3,425.2 498.4,425.2 496.9,428.3 493.0,431.4 489.1,433.8 486.7,437.7 482.8,440.8 479.7,442.3 478.9,447.0 481.2,452.5 482.8,456.4 481.2,460.3 480.5,460.2 482.8,465.2 485.9,470.6 487.5,476.1 491.4,480.0 492.2,484.7 488.3,487.8 489.8,492.5 495.3,490.2 500.0,487.8 504.7,485.5 507.8,487.8 509.4,492.5 510.9,497.2 514.8,503.4 518.0,507.3 521.9,508.1 522.7,512.8 526.6,515.2 531.2,513.6 535.0,511.2 536.9,515.2 540.8,515.9 542.3,512.8 543.9,508.1 548.6,505.8 554.1,504.2 553.3,503.4 550.2,498.8 546.2,494.1 543.1,490.9 544.7,487.0 543.9,482.3 540.8,479.2 542.3,473.8 541.6,467.5 543.1,465.0 543.9,463.4 546.2,459.5 545.5,455.6 543.9,450.2 541.6,446.6 536.1,445.0 535.0,444.7 532.0,442.3 528.1,439.2 523.4,436.1 518.8,433.8 514.1,431.4 512.5,426.7Z"/>
<path fill="#ce787c" d="M432.0,465.0 428.1,463.4 421.9,461.9 421.1,458.0 417.2,457.2 412.5,456.9 413.3,462.0 411.7,466.7 407.0,466.2 404.7,468.3 400.0,469.4 398.4,474.5 396.1,479.2 392.2,483.1 389.8,488.6 387.5,494.8 389.8,500.3 390.6,506.6 392.2,513.6 393.8,517.5 400.0,515.9 408.6,515.9 415.6,518.3 421.9,521.4 428.1,525.3 434.4,530.0 438.3,534.7 440.6,539.4 442.5,540.2 442.5,534.4 441.4,528.4 443.0,523.0 442.2,517.5 443.8,512.0 442.2,506.6 443.8,501.1 441.4,496.4 439.8,491.7 434.4,490.9 435.2,487.0 439.1,484.7 443.8,483.1 448.4,483.1 449.2,480.8 452.3,479.2 453.1,474.5 451.6,470.6 447.7,469.8 443.8,468.8 442.2,466.2 439.1,465.2 435.9,467.2Z"/>
<path fill="#b1485b" d="M672.5,381.9 671.2,383.0 665.0,386.9 659.5,390.0 654.1,389.2 648.6,388.4 646.2,385.3 645.5,390.0 640.0,391.6 636.1,393.1 633.0,390.8 630.6,392.3 625.9,387.7 621.2,387.7 615.0,388.4 612.7,394.7 609.5,398.6 611.1,404.1 608.0,411.1 612.7,415.0 615.0,419.7 618.1,423.6 617.3,428.3 613.4,430.6 613.4,436.1 621.2,437.7 623.6,443.1 626.7,446.2 627.5,452.5 628.3,456.4 625.2,461.1 622.8,464.2 622.0,464.4 627.5,465.6 633.8,466.7 635.0,464.2 638.4,458.8 642.3,454.8 647.8,450.2 654.1,448.6 661.1,445.5 665.8,449.4 671.2,447.8 673.3,444.7 674.1,440.0 674.1,433.8 675.6,429.1 679.5,425.9 683.4,425.2 688.1,422.8 692.0,424.4 695.9,429.1 699.1,427.5 700.6,422.0 700.6,416.6 699.1,411.9 695.2,411.1 690.5,411.9 687.3,408.0 685.0,403.3 686.6,398.6 688.9,393.9 688.9,388.4 681.9,386.1 676.4,384.5Z"/>
<path fill="#eb899b" d="M613.4,436.1 608.8,439.2 603.3,441.6 600.2,440.0 596.2,441.6 591.6,440.8 585.3,439.2 582.2,442.3 576.7,443.1 574.4,441.6 569.7,443.1 563.4,442.3 558.8,445.5 552.5,445.9 546.2,445.0 541.6,446.6 543.9,450.2 545.5,455.6 546.2,459.5 543.9,463.4 543.1,465.0 541.6,467.5 542.3,473.8 540.8,479.2 543.9,482.3 544.7,487.0 543.1,490.9 546.2,494.1 550.2,498.8 553.3,503.4 554.1,504.2 561.9,505.0 564.2,500.3 569.7,497.2 574.4,494.1 577.5,491.7 580.6,494.1 585.3,493.3 590.0,490.2 594.7,490.2 597.8,492.5 602.5,491.7 606.4,487.8 606.4,483.1 608.8,479.2 611.9,474.5 616.6,470.6 621.2,468.3 622.0,464.4 622.8,464.2 625.2,461.1 628.3,456.4 627.5,452.5 626.7,446.2 623.6,443.1 621.2,437.7Z"/>
<path fill="#b1485b" d="M671.2,447.8 665.8,449.4 661.1,445.5 654.1,448.6 647.8,450.2 642.3,454.8 638.4,458.8 635.0,464.2 633.8,466.7 637.7,472.2 639.2,473.8 644.7,474.5 649.4,476.1 649.4,481.6 648.6,486.2 650.9,490.9 654.1,496.4 658.0,501.1 661.9,502.7 665.8,505.0 671.2,503.4 673.8,502.7 674.5,500.3 678.4,498.0 682.3,494.8 687.8,494.1 690.9,496.4 692.5,494.1 697.2,492.5 701.9,494.1 706.6,492.5 711.2,490.9 709.7,486.2 708.9,481.6 707.8,478.1 705.8,476.1 701.9,472.2 698.8,466.7 695.9,465.0 697.5,458.8 698.3,454.1 696.7,449.4 692.8,445.5 693.6,440.0 695.2,435.3 695.9,429.1 692.0,424.4 688.1,422.8 683.4,425.2 679.5,425.9 675.6,429.1 674.1,433.8 674.1,440.0 673.3,444.7ZM707.5,480.0 708.8,483.9 709.7,489.4 706.6,488.6 704.7,484.7Z"/>
<path fill="#eb899b" d="M742.8,415.0 737.3,415.0 732.7,415.0 728.0,415.8 721.7,418.9 717.0,420.5 719.4,423.6 715.5,425.9 711.6,422.8 706.1,423.6 700.6,422.0 699.1,427.5 695.9,429.1 695.2,435.3 693.6,440.0 692.8,445.5 696.7,449.4 698.3,454.1 697.5,458.8 695.9,465.0 698.8,466.7 701.9,472.2 705.8,476.1 707.8,478.1 708.1,477.7 710.5,473.0 713.6,469.1 713.9,465.0 716.2,458.8 720.2,455.6 720.2,450.9 724.1,447.8 725.6,444.7 728.8,440.8 735.0,437.7 741.2,435.3 742.8,432.2 747.5,429.8 751.4,426.7 755.3,423.6 753.0,418.9 749.1,416.6Z"/>
<path fill="#72192c" d="M451.6,470.6 453.1,474.5 452.3,479.2 449.2,480.8 448.4,483.1 443.8,483.1 439.1,484.7 435.2,487.0 434.4,490.9 439.8,491.7 441.4,496.4 443.8,501.1 442.2,506.6 443.8,512.0 442.2,517.5 443.0,523.0 441.4,528.4 442.5,534.4 446.9,534.4 453.1,535.5 459.4,536.6 464.1,537.0 465.6,534.7 470.3,533.1 474.2,530.8 478.1,531.6 481.2,533.1 482.8,526.1 483.6,528.4 485.9,531.6 489.1,529.2 493.0,526.9 496.9,530.8 500.8,527.7 501.6,526.9 505.5,524.5 510.2,521.4 512.5,517.5 516.4,518.3 518.8,515.2 522.7,512.8 521.9,508.1 518.0,507.3 514.8,503.4 510.9,497.2 509.4,492.5 507.8,487.8 504.7,485.5 500.0,487.8 495.3,490.2 489.8,492.5 488.3,487.8 492.2,484.7 491.4,480.0 487.5,476.1 485.9,470.6 482.8,465.2 480.5,460.2 476.6,460.9 472.7,462.8 474.2,460.5 472.7,456.9 468.8,457.8 465.6,459.7 463.3,463.6 461.7,468.3 456.2,469.1Z"/>
<path fill="#b1485b" d="M442.5,534.4 442.5,540.2 438.4,544.8 440.8,550.3 445.5,555.8 448.6,558.1 447.8,560.5 450.2,565.2 454.1,570.6 458.0,576.1 465.0,577.7 469.7,582.3 474.4,583.9 478.3,586.2 482.2,584.7 486.9,582.3 486.1,578.4 490.0,576.9 491.6,573.8 493.9,569.8 495.0,568.3 492.3,567.5 490.0,562.8 486.9,558.1 483.8,556.6 478.3,557.3 479.1,555.0 483.8,554.7 486.9,551.1 490.8,548.8 492.3,544.8 491.4,539.4 493.8,535.5 498.4,537.8 501.6,536.2 502.3,531.6 500.8,527.7 496.9,530.8 493.0,526.9 489.1,529.2 485.9,531.6 483.6,528.4 482.8,526.1 481.2,533.1 478.1,531.6 474.2,530.8 470.3,533.1 465.6,534.7 464.1,537.0 459.4,536.6 453.1,535.5 446.9,534.4Z"/>
<path fill="#ce787c" d="M522.7,512.8 518.8,515.2 516.4,518.3 512.5,517.5 510.2,521.4 505.5,524.5 501.6,526.9 500.8,527.7 502.3,531.6 501.6,536.2 498.4,537.8 493.8,535.5 491.4,539.4 492.3,544.8 490.8,548.8 486.9,551.1 483.8,554.7 479.1,555.0 478.3,557.3 483.8,556.6 486.9,558.1 490.0,562.8 492.3,567.5 495.0,568.3 499.4,563.6 505.6,560.5 511.9,558.1 518.1,558.9 523.6,557.3 527.5,553.4 531.4,549.5 534.5,545.6 535.3,544.8 543.1,544.8 550.9,544.1 558.8,543.8 565.3,543.3 564.2,538.6 558.8,535.5 552.5,533.9 546.2,530.8 541.6,526.9 540.0,520.6 540.8,515.9 536.9,515.2 535.0,511.2 531.2,513.6 526.6,515.2Z"/>
<path fill="#922b41" d="M554.1,504.2 548.6,505.8 543.9,508.1 542.3,512.8 540.8,515.9 540.0,520.6 541.6,526.9 546.2,530.8 552.5,533.9 558.8,535.5 564.2,538.6 565.3,543.3 566.6,544.1 571.2,544.8 575.9,544.1 580.6,545.6 585.3,544.8 590.0,543.3 595.9,542.5 596.2,541.7 600.2,538.6 599.4,535.5 602.5,531.6 601.7,527.7 600.6,522.5 604.1,522.2 607.2,517.5 608.8,512.0 612.7,512.8 617.3,515.2 618.1,510.5 618.9,505.0 622.8,501.1 627.5,498.0 632.2,496.4 633.0,490.2 635.3,483.9 636.1,478.4 639.2,473.8 637.7,472.2 633.8,466.7 627.5,465.6 622.0,464.4 621.2,468.3 616.6,470.6 611.9,474.5 608.8,479.2 606.4,483.1 606.4,487.8 602.5,491.7 597.8,492.5 594.7,490.2 590.0,490.2 585.3,493.3 580.6,494.1 577.5,491.7 574.4,494.1 569.7,497.2 564.2,500.3 561.9,505.0Z"/>
<path fill="#eb899b" d="M665.8,505.0 661.9,502.7 658.0,501.1 654.1,496.4 650.9,490.9 648.6,486.2 649.4,481.6 649.4,476.1 644.7,474.5 639.2,473.8 636.1,478.4 635.3,483.9 633.0,490.2 632.2,496.4 627.5,498.0 622.8,501.1 618.9,505.0 618.1,510.5 617.3,515.2 612.7,512.8 608.8,512.0 607.2,517.5 604.1,522.2 600.6,522.5 601.7,527.7 602.5,531.6 599.4,535.5 600.2,538.6 596.2,541.7 595.9,542.5 602.5,543.3 607.2,544.1 611.9,546.4 616.6,545.6 621.2,540.9 625.9,539.4 632.2,537.8 636.9,541.7 640.8,544.8 644.7,543.3 649.4,537.8 650.2,533.1 654.1,530.0 656.4,523.8 658.0,517.5 661.1,512.8 663.4,508.9Z"/>
<path fill="#ffffff" d="M707.5,480.0 704.7,484.7 706.6,488.6 709.7,489.4 708.8,483.9Z"/>
<path fill="#f6b8c5" d="M854.4,371.9 857.5,375.3 861.4,376.1 863.4,379.2 864.5,376.9 867.7,374.5 871.6,373.8 874.7,376.1 874.7,380.0 876.2,383.9 880.2,385.5 884.8,385.5 887.2,388.6 889.5,391.2 892.7,389.4 896.6,386.2 899.7,383.1 901.2,378.4 904.4,375.3 905.9,370.6 908.3,367.5 909.4,363.1 906.7,361.2 902.8,359.7 898.9,362.0 895.0,360.5 892.7,357.3 895.0,356.6 896.6,354.2 895.0,353.4 891.1,353.4 894.2,351.1 897.3,348.4 895.0,348.8 888.8,350.3 884.1,351.9 877.8,355.0 872.3,358.9 866.9,363.6 860.6,368.3Z"/>
<path fill="#f6b8c5" d="M924.7,345.6 925.5,348.4 927.0,350.6 931.7,349.5 936.4,350.3 940.3,353.4 945.0,356.9 948.1,358.1 949.4,353.4 947.3,349.5 944.2,345.6 941.1,342.5 938.0,341.2 933.3,342.5 927.8,342.8Z"/>
<path fill="#f6b8c5" d="M802.5,410.3 802.5,412.7 802.9,415.0 805.6,415.8 808.8,416.2 810.5,417.3 811.1,415.0 813.4,413.0 816.6,410.7 819.3,408.0 821.2,405.2 820.5,402.1 817.0,400.2 812.7,401.7 808.4,403.3 806.0,406.4 805.6,409.1Z"/>
<path fill="#f6b8c5" d="M810.2,424.4 809.9,426.7 810.5,429.7 812.3,428.3 814.2,427.3 817.0,429.1 818.8,429.2 819.7,427.9 818.5,426.6 817.0,427.9 815.0,426.7 814.4,424.8 812.7,423.8Z"/>
<path fill="#eb899b" d="M79.0,577.2 79.9,581.0 81.8,584.8 84.3,590.5 86.2,595.2 88.1,594.8 90.4,589.5 91.3,583.8 92.6,579.1 90.4,573.4 83.7,572.1 80.9,573.4Z"/>
<path fill="#eb899b" d="M110.9,613.3 111.6,619.0 115.0,621.4 118.8,620.3 122.3,617.1 121.7,613.8 117.9,610.8 114.1,610.0Z"/>
<path fill="#eb899b" d="M72.3,637.0 72.3,639.3 76.1,640.4 79.0,643.1 81.3,642.7 83.2,637.9 85.1,633.6 83.7,631.3 79.9,632.2 76.1,636.0Z"/>
<path fill="#eb899b" d="M131.2,601.9 133.1,604.7 135.9,610.4 139.7,618.0 142.6,622.2 148.3,619.9 153.0,615.2 154.9,610.4 156.8,604.7 158.7,600.0 163.4,594.8 168.2,591.8 168.6,589.5 166.3,588.6 160.6,588.6 156.8,590.5 154.0,594.3 150.2,598.1 143.5,599.0 135.9,600.0Z"/>
<path fill="#eb899b" d="M183.0,623.7 183.4,628.4 185.6,632.8 189.1,636.0 193.8,637.4 197.6,636.0 201.4,633.2 203.9,628.4 204.6,622.7 202.7,618.0 202.0,612.3 197.6,613.8 192.9,613.3 189.1,612.7 188.7,617.1 185.3,619.9Z"/>
<path fill="#eb899b" d="M275.4,570.9 277.3,572.4 280.2,572.1 284.0,569.0 288.7,567.1 293.4,563.9 295.3,560.1 297.2,555.0 297.2,551.6 294.8,549.7 293.4,546.3 291.5,547.8 292.5,551.2 289.6,555.4 284.9,557.6 280.2,561.1 277.7,565.8Z"/>
<path fill="#eb899b" d="M245.4,617.4 248.8,619.0 253.6,619.3 256.4,616.1 260.2,612.7 265.0,611.4 269.7,610.0 273.5,607.6 275.8,602.8 277.3,597.1 278.3,589.5 278.3,581.9 277.3,578.5 272.6,578.5 268.8,580.4 267.8,584.8 265.9,590.5 263.1,596.2 260.6,601.9 259.3,607.6 257.9,611.4 253.6,614.6 248.8,616.5Z"/>
</g>
<path d="M73,535.4H294.4L307.7,553.5V643.6" fill="none" stroke="#4a4a4a" stroke-width="0.9"/>
<path d="M448.4,645.1 463.2,599.3 471.6,598.6 479.4,597.0 483.9,592.5 487.9,591.8 490.2,595.2 491.8,604.2 495.1,612.1 501.9,618.8 507.5,624.0 513.1,628.9 519.8,632.9 528.8,635.2 536.7,637.4 542.3,634.5 547.9,633.8 553.1,631.2 558.0,630.5 559.8,633.4 562.5,634.5 567.0,630.7 571.1,630.0 576.0,632.3 582.7,634.5 588.3,633.8 595.1,630.7 599.6,627.8 602.5,621.5 604.7,627.8 606.3,633.8 609.7,636.8 616.4,639.0 622.0,640.6 627.7,639.0 633.3,638.3 640.0,640.8 640.7,645.1Z" fill="#fff" stroke="#000" stroke-width="0.75" stroke-linejoin="round"/>
<path d="M488.8,592.5 494.0,593.4 490.2,595.2Z" fill="#cf7a80" stroke="#000" stroke-width="0.6"/>
<path d="M603.4,627.1 605.2,628.0 604.3,629.8Z" fill="#cf7a80" stroke="#000" stroke-width="0.6"/>
<path d="M606.3,632.3 609.7,635.2 611.9,637.9 608.6,637.9 606.8,635.2Z" fill="#fff" stroke="#000" stroke-width="0.6"/>
<rect x="774.4" y="455.40" width="15.2" height="15.2" fill="#f6b8c5" stroke="#000" stroke-opacity="0.28" stroke-width="0.7"/>
<rect x="774.4" y="481.67" width="15.2" height="15.2" fill="#eb899b" stroke="#000" stroke-opacity="0.28" stroke-width="0.7"/>
<rect x="774.4" y="507.94" width="15.2" height="15.2" fill="#ce787c" stroke="#000" stroke-opacity="0.28" stroke-width="0.7"/>
<rect x="774.4" y="534.21" width="15.2" height="15.2" fill="#b1485b" stroke="#000" stroke-opacity="0.28" stroke-width="0.7"/>
<rect x="774.4" y="560.48" width="15.2" height="15.2" fill="#922b41" stroke="#000" stroke-opacity="0.28" stroke-width="0.7"/>
<rect x="774.4" y="586.75" width="15.2" height="15.2" fill="#72192c" stroke="#000" stroke-opacity="0.28" stroke-width="0.7"/>
<rect x="774.4" y="613.02" width="15.2" height="15.2" fill="#480513" stroke="#000" stroke-opacity="0.28" stroke-width="0.7"/>
<ellipse cx="588.8" cy="141.0" rx="0.9" ry="2.2" fill="#480513" stroke="#000" stroke-width="0.5"/>
<ellipse cx="824.3" cy="220.3" rx="0.9" ry="2.0" fill="#000" stroke="#000" stroke-width="0.5"/>
<ellipse cx="839.3" cy="209.0" rx="1.1" ry="1.4" fill="#000" stroke="#000" stroke-width="0.5"/>
<ellipse cx="826.0" cy="227.0" rx="0.6" ry="0.6" fill="#000" stroke="#000" stroke-width="0.5"/>
<ellipse cx="884.2" cy="398.4" rx="1.2" ry="1.3" fill="#000" stroke="#000" stroke-width="0.5"/>
<ellipse cx="776.9" cy="352.3" rx="0.5" ry="0.4" fill="#000" stroke="#000" stroke-width="0.5"/>
<ellipse cx="814.6" cy="419.8" rx="0.4" ry="0.8" fill="#000" stroke="#000" stroke-width="0.5"/>
</svg>
<div id="lb"></div><div id="rb"></div>
<div id="hdr"><h1>¿Cuántos se llaman...</h1>
<svg id="logo" viewBox="0 0 38 22"><text x="0.9" y="18" font-family="Liberation Sans, Arial, sans-serif" font-weight="bold" font-size="17.8" fill="#fff" textLength="19.6" lengthAdjust="spacingAndGlyphs">IN</text><text x="22.6" y="18.3" style="font-family:'Liberation Serif','DejaVu Serif',serif;font-size:26px" fill="#fff" stroke="#fff" stroke-width="0.35">e</text><rect x="22.4" y="1.9" width="12.4" height="1" fill="#fff"/></svg>
</div>
<div id="panel">
<div id="inp">Pablo</div>
<div id="b1">Nombre<svg class="mg" style="left:43.3px;top:4.3px" viewBox="0 0 14 14"><circle cx="5.6" cy="5.6" r="4" fill="none" stroke="#000" stroke-width="1.5"/><path d="M8.6 8.6L13 13" stroke="#000" stroke-width="1.7" stroke-linecap="round"/></svg></div>
<div id="b2">Apellido<svg class="mg" style="left:44.7px;top:5.3px" viewBox="0 0 14 14"><circle cx="5.6" cy="5.6" r="4" fill="none" stroke="#fff" stroke-width="1.5"/><path d="M8.6 8.6L13 13" stroke="#fff" stroke-width="1.7" stroke-linecap="round"/></svg></div>
<div id="t1">Número de personas:</div>
<div id="t2">HOMBRES: <b>225.217</b> (edad media: <b>29,3</b> años)</div>
</div>
<div id="ttl">Nombre de hombre <span>(‰)</span></div>

<svg id="ctl" width="40" height="130" viewBox="0 95 40 130" style="position:absolute;left:0;top:95px">
<g fill="#4c4c4c"><rect x="4.4" y="107.3" width="20.4" height="20.3" rx="2.4"/><rect x="4.4" y="130.5" width="20.4" height="20.3" rx="2.4"/><rect x="4.4" y="153.6" width="20.4" height="20.3" rx="2.4"/><rect x="4.4" y="176.7" width="20.4" height="20.3" rx="2.4"/><rect x="4.4" y="199.8" width="20.4" height="20.3" rx="2.4"/></g>
<g stroke="#fff" fill="none">
<path d="M14.6 112.6V122.2M9.8 117.4H19.4" stroke-width="1.6"/>
<path d="M12.2 140.5H16.8" stroke-width="2"/>
<path d="M8.4 164.2L14.6 158.2L20.8 164.2M10.2 163.4V169.4H13.2V165H16V169.4H19V163.4" stroke-width="1.3" stroke-linejoin="round" stroke-linecap="round"/>
<circle cx="13.1" cy="208.1" r="3.6" stroke-width="1.7"/><path d="M15.9 210.9L19.9 214.9" stroke-width="1.9" stroke-linecap="round"/>
</g>
<g fill="#fff"><rect x="13.1" y="181" width="3" height="2.9" rx=".6"/><rect x="13.1" y="185.6" width="3" height="2.9" rx=".6"/><rect x="13.1" y="190.2" width="3" height="2.9" rx=".6"/></g>
</svg>

<div id="leg">
<div style="top:455px">1,633 - 6,205</div>
<div style="top:481.3px">6,206 - 9,184</div>
<div style="top:507.6px">9,185 - 10,329</div>
<div style="top:533.9px">10,330 - 11,182</div>
<div style="top:560.2px">11,183 - 12,204</div>
<div style="top:586.5px">12,205 - 12,945</div>
<div style="top:612.8px">12,946 - 16,981</div>
</div>

</body>
</html>
